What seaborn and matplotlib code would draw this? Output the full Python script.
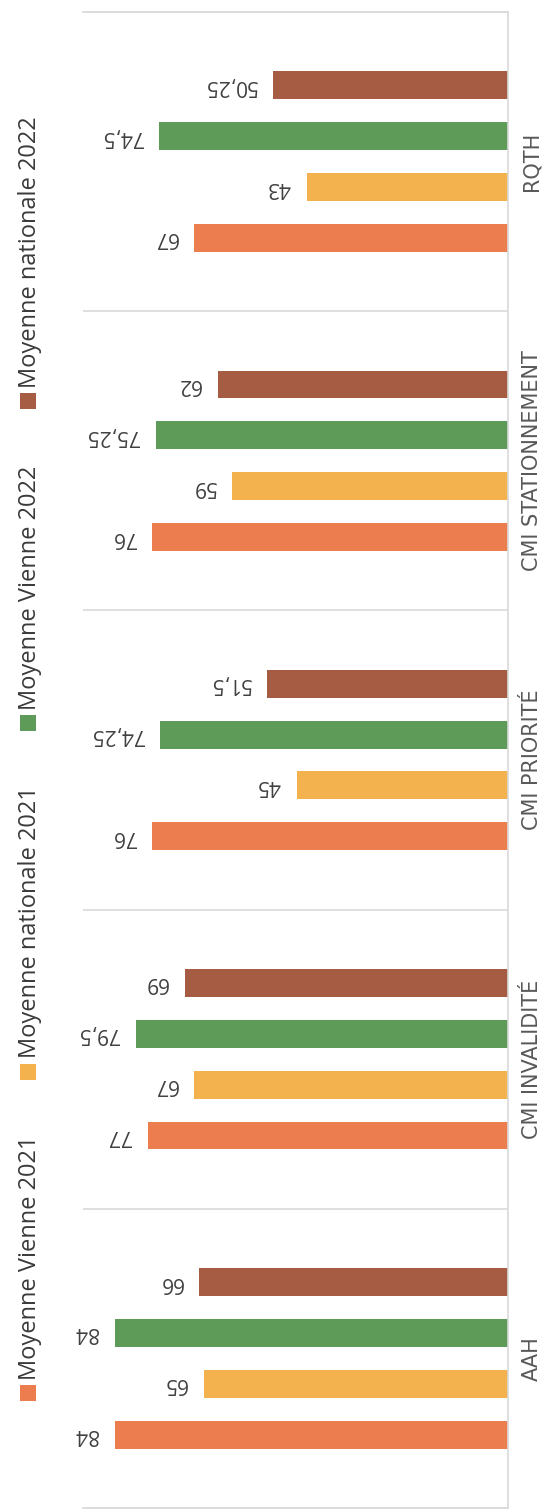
import numpy as np
import pandas as pd
import matplotlib
matplotlib.use("Agg")
import matplotlib.pyplot as plt
from matplotlib.patches import Rectangle
import seaborn as sns

# Data
categories = ["AAH", "CMI INVALIDITÉ", "CMI PRIORITÉ", "CMI STATIONNEMENT", "RQTH"]
series = ["Moyenne Vienne 2021", "Moyenne nationale 2021",
          "Moyenne Vienne 2022", "Moyenne nationale 2022"]
vienne_2021 = [84, 77, 76, 76, 67]
nationale_2021 = [65, 67, 45, 59, 43]
vienne_2022 = [84, 79.5, 74.25, 75.25, 74.5]
nationale_2022 = [66, 69, 51.5, 62, 50.25]
colors = ["#EB7D4F", "#F3B24E", "#5E9B59", "#A65C42"]

df = pd.DataFrame({
    "categorie": categories * len(series),
    "serie": np.repeat(series, len(categories)),
    "valeur": vienne_2021 + nationale_2021 + vienne_2022 + nationale_2022,
})

W, H, DPI = 553, 1510, 100
sns.set_theme(style="white")
plt.rcParams["font.family"] = ["Open Sans", "DejaVu Sans"]

fig = plt.figure(figsize=(W / DPI, H / DPI), dpi=DPI, facecolor="white")
ax = fig.add_axes([83 / W, 2 / H, (508 - 83) / W, (1508 - 12) / H])

sns.barplot(data=df, x="valeur", y="categorie", hue="serie",
            order=categories, hue_order=series, palette=colors,
            orient="h", width=0.68, gap=0.45, saturation=1,
            errorbar=None, linewidth=0, legend=False, ax=ax)

# value axis runs right-to-left, categories bottom-to-top
ax.set_xlim(90.8, 0)
ax.set_ylim(-0.5, len(categories) - 0.5)


def fr(v):
    return f"{v:g}".replace(".", ",")


for cont in ax.containers:
    ax.bar_label(cont, labels=[fr(v) for v in cont.datavalues], padding=12,
                 rotation=180, fontsize=15, color="#404040")

# category labels on the right, reading upward
ax.set_yticks(range(len(categories)))
ax.set_yticklabels(categories, rotation=90, va="center", fontsize=15,
                   color="#595959", family="DejaVu Sans")
ax.yaxis.tick_right()
ax.tick_params(axis="y", which="major", length=0, pad=10)
ax.set_xticks([])
ax.set_xlabel("")
ax.set_ylabel("")

# group separators
ax.set_yticks(np.arange(-0.5, len(categories), 1), minor=True)
ax.tick_params(axis="y", which="minor", length=0)
ax.grid(False)
ax.grid(which="minor", axis="y", color="#D9D9D9", linewidth=1.2)
for side in ["top", "bottom", "right"]:
    ax.spines[side].set_visible(True)
    ax.spines[side].set_color("#D9D9D9")
    ax.spines[side].set_linewidth(1.2)
ax.spines["left"].set_visible(False)

# legend column on the left, entries stacked upward
renderer = fig.canvas.get_renderer()
cursor = 1401
sq = 16
gap = 56
for name, col in zip(series, colors):
    fig.add_artist(Rectangle((20 / W, (H - cursor) / H), sq / W, sq / H,
                             transform=fig.transFigure, color=col, lw=0))
    t = fig.text(36.5 / W, (H - (cursor - sq - 5)) / H, name, rotation=90,
                 rotation_mode="anchor", ha="left", va="baseline",
                 fontsize=17, color="#3A3A3A")
    ext = t.get_window_extent(renderer)
    cursor = (H - ext.y1) - gap

fig.savefig("out.png", dpi=DPI, facecolor="white")
